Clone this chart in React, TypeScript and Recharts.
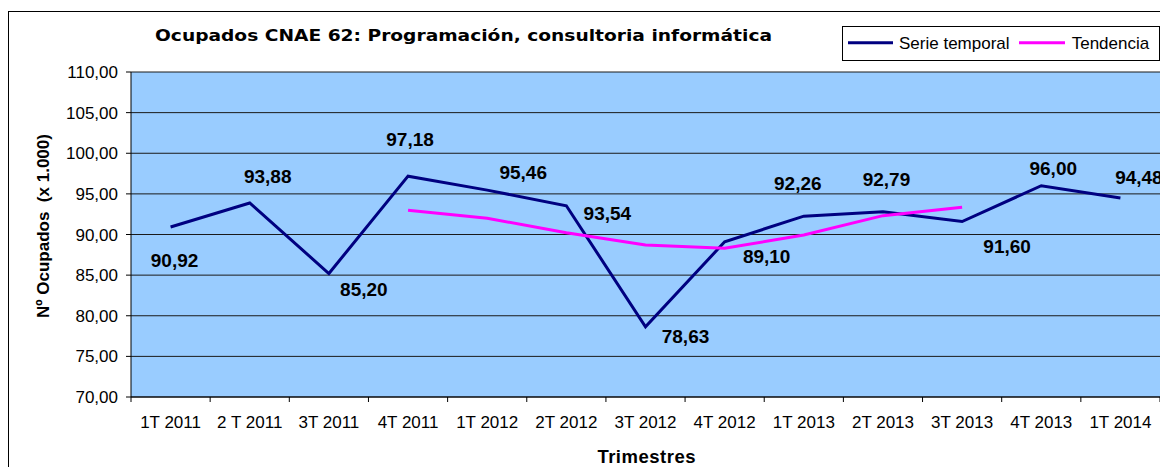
import React from "react";
import {
  ComposedChart,
  Line,
  XAxis,
  YAxis,
  CartesianGrid,
  LabelList,
} from "recharts";

const categories = [
  "1T 2011",
  "2 T 2011",
  "3T 2011",
  "4T 2011",
  "1T 2012",
  "2T 2012",
  "3T 2012",
  "4T 2012",
  "1T 2013",
  "2T 2013",
  "3T 2013",
  "4T 2013",
  "1T 2014",
];

const serieTemporal = [
  90.92, 93.88, 85.2, 97.18, 95.46, 93.54, 78.63, 89.1, 92.26, 92.79, 91.6, 96.0, 94.48,
];

const tendencia: (number | null)[] = [
  null, null, null, 92.99, 92.0, 90.22, 88.7, 88.3, 89.94, 92.32, 93.36, null, null,
];

const yTicks = [70, 75, 80, 85, 90, 95, 100, 105, 110];

// where each data label sits relative to its point (dx, dy to the text centre)
const labelOffsets: [number, number][] = [
  [4, 33],
  [18, -27],
  [35, 16],
  [2, -37],
  [36, -18],
  [41, 7.5],
  [40, 9],
  [42, 14],
  [-6, -33],
  [3.5, -33],
  [45, 25],
  [12, -18],
  [18.5, -21],
];

const W = 1160;
const H = 459;
const margin = { top: 64, right: 8, left: 0, bottom: 0 };
const Y_AXIS_W = 123;
const BAND = (W - margin.left - margin.right - Y_AXIS_W) / categories.length;

const ARIAL = '"Liberation Sans", Arial, sans-serif';
const NAVY = "#000080";
const PINK = "#FF00FF";

const data = categories.map((c, i) => ({
  trimestre: c,
  serie: serieTemporal[i],
  tendencia: tendencia[i],
}));

const fmt = (v: number) => v.toFixed(2).replace(".", ",");

function XTick(props: any) {
  const { x, y, payload, index } = props;
  const half = BAND / 2;
  return (
    <g>
      <line x1={x - half} x2={x - half} y1={y} y2={y + 5} stroke="#000" />
      {index === categories.length - 1 && (
        <line x1={x + half} x2={x + half} y1={y} y2={y + 5} stroke="#000" />
      )}
      <text
        x={x}
        y={y + 31}
        textAnchor="middle"
        fontSize={17}
        fontFamily={ARIAL}
        fill="#000"
      >
        {payload.value}
      </text>
    </g>
  );
}

function renderLabel(props: any) {
  const { x, y, value, index } = props;
  if (value == null) return null;
  const [dx, dy] = labelOffsets[index] || [0, -20];
  const fs = 19;
  return (
    <text
      key={`lbl-${index}`}
      x={x + dx}
      y={y + dy + fs * 0.358}
      textAnchor="middle"
      fontSize={fs}
      fontWeight="bold"
      fontFamily={ARIAL}
      fill="#000"
    >
      {fmt(value)}
    </text>
  );
}

export default function App() {
  return (
    <div style={{ position: "relative", width: W, height: H, overflow: "hidden", background: "#fff" }}>
      <div
        style={{
          position: "absolute",
          left: 0,
          top: 3,
          width: W + 40,
          height: H + 40,
          border: "1px solid #000",
          boxSizing: "border-box",
        }}
      />
      <div style={{ position: "absolute", left: 0, top: 0 }}>
        <ComposedChart width={W} height={H} data={data} margin={margin}>
          <CartesianGrid vertical={false} stroke="#1a1a1a" fill="#99CCFF" />
          <XAxis
            dataKey="trimestre"
            scale="band"
            height={70}
            interval={0}
            tickLine={false}
            tickSize={0}
            tickMargin={0}
            axisLine={{ stroke: "#000" }}
            tick={<XTick />}
          />
          <XAxis
            xAxisId="top"
            dataKey="trimestre"
            scale="band"
            orientation="top"
            height={0}
            tick={false}
            tickLine={false}
            axisLine={{ stroke: "#808080" }}
          />
          <YAxis
            width={Y_AXIS_W}
            domain={[70, 110]}
            ticks={yTicks}
            interval={0}
            tickFormatter={fmt}
            tickSize={5}
            tickMargin={8}
            tick={{ fill: "#000", fontSize: 17, fontFamily: ARIAL }}
            tickLine={{ stroke: "#000" }}
            axisLine={{ stroke: "#000" }}
          />
          <YAxis
            yAxisId="right"
            orientation="right"
            width={0}
            domain={[70, 110]}
            tick={false}
            tickLine={false}
            axisLine={{ stroke: "#808080" }}
          />
          <Line
            dataKey="serie"
            stroke={NAVY}
            strokeWidth={3}
            dot={false}
            activeDot={false}
            isAnimationActive={false}
          >
            <LabelList dataKey="serie" content={renderLabel} />
          </Line>
          <Line
            dataKey="tendencia"
            stroke={PINK}
            strokeWidth={3}
            dot={false}
            activeDot={false}
            isAnimationActive={false}
          />
        </ComposedChart>
      </div>
      <svg
        width={W}
        height={H}
        style={{ position: "absolute", left: 0, top: 0, pointerEvents: "none" }}
      >
        <text
          x={147}
          y={32.7}
          fontSize={16.5}
          fontWeight="bold"
          fontFamily="'DejaVu Sans', sans-serif"
          fill="#000"
          textLength={617}
          lengthAdjust="spacingAndGlyphs"
        >
          Ocupados CNAE 62: Programación, consultoria informática
        </text>
        <text
          transform="translate(35.5, 218) rotate(-90)"
          textAnchor="middle"
          dominantBaseline="central"
          fontSize={17}
          fontWeight="bold"
          fontFamily={ARIAL}
          fill="#000"
          style={{ whiteSpace: "pre" }}
        >
          {"Nº Ocupados  (x 1.000)"}
        </text>
        <text
          x={638.7}
          y={455.3}
          textAnchor="middle"
          fontSize={18.5}
          fontWeight="bold"
          fontFamily={ARIAL}
          letterSpacing={0.5}
          fill="#000"
        >
          Trimestres
        </text>
        <rect x={834.5} y={18.5} width={317} height={34} fill="#fff" stroke="#000" />
        <line x1={840} x2={885} y1={34.7} y2={34.7} stroke={NAVY} strokeWidth={3} />
        <text x={891} y={41.3} fontSize={17} fontFamily={ARIAL} fill="#000">
          Serie temporal
        </text>
        <line x1={1011} x2={1057} y1={34.7} y2={34.7} stroke={PINK} strokeWidth={3} />
        <text x={1063.7} y={41.3} fontSize={17} fontFamily={ARIAL} fill="#000">
          Tendencia
        </text>
      </svg>
    </div>
  );
}
